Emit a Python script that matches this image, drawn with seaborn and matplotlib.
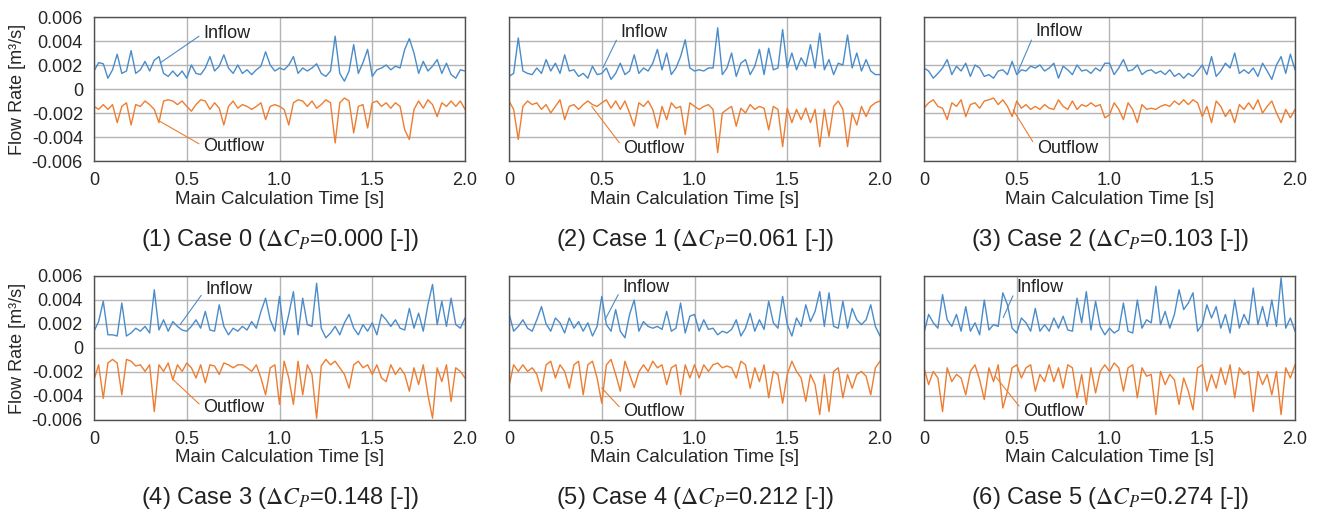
import numpy as np
import pandas as pd
import matplotlib
matplotlib.use("Agg")
import matplotlib.pyplot as plt
import seaborn as sns

# time axis of the main calculation [s]
time_s = np.linspace(0, 2.0, 81)

# flow rates, in 0.001 m3/s
case0_in = [1.5,2.2,2.1,0.9,1.6,2.9,1.3,1.5,3.2,1.3, 1.6,2.3,1.5,2.4,2.7,1.3,1.05,1.5,1.05,1.5,
            0.9,2.0,1.3,1.2,1.75,2.7,1.5,1.9,2.85,1.75, 1.3,2.0,1.3,1.6,1.2,1.6,1.9,3.1,2.0,1.5,
            1.75,1.6,2.0,2.7,1.3,1.75,1.5,1.75,2.1,1.3, 1.05,1.5,4.4,1.3,0.65,1.5,3.7,1.3,2.2,3.3,
            1.05,1.6,1.75,2.0,1.6,1.9,1.75,3.3,4.2,3.0, 1.3,2.3,1.5,1.9,2.45,1.3,2.15,1.2,0.9,1.6,1.5]
case0_out = [-1.45,-1.7,-1.3,-1.7,-1.3,-2.8,-1.45,-1.15,-3.0,-1.3, -1.45,-1.0,-1.3,-1.7,-2.8,-1.0,-0.9,-1.0,-1.3,-1.0,
             -1.45,-1.85,-1.3,-0.9,-1.0,-1.7,-1.15,-1.6,-3.0,-1.45, -1.0,-1.6,-1.3,-1.45,-1.7,-1.45,-1.15,-2.55,-1.45,-1.3,
             -1.45,-1.7,-3.0,-1.15,-0.9,-1.0,-1.45,-1.0,-1.6,-1.3, -0.9,-1.15,-4.5,-1.15,-0.75,-1.0,-3.65,-1.45,-1.3,-3.25,
             -1.15,-1.0,-1.45,-1.15,-1.6,-1.15,-1.45,-3.4,-4.2,-1.7, -1.0,-1.6,-0.9,-1.3,-2.3,-1.15,-1.45,-1.0,-1.45,-1.0,-1.7]
case1_in = [1.05,1.3,4.25,1.5,1.3,1.2,1.75,1.3,2.45,1.5, 2.15,1.3,2.85,1.5,1.6,1.05,1.3,0.9,1.9,1.2,
            1.3,1.75,0.8,1.3,2.15,1.2,1.5,2.85,1.3,1.75, 1.5,2.15,3.3,1.6,3.0,1.2,1.75,2.7,4.1,1.75,
            1.5,1.6,1.5,1.75,1.75,5.1,1.2,1.75,3.0,1.05, 2.15,2.45,1.2,1.9,3.3,1.2,3.4,1.6,1.75,4.95,
            1.75,3.0,1.6,2.6,1.9,3.7,1.75,4.65,1.6,2.45, 1.2,2.15,2.0,4.5,1.75,3.0,1.5,2.45,1.5,1.2,1.2]
case1_out = [-1.0,-1.7,-4.2,-1.45,-1.0,-1.3,-1.15,-1.7,-1.3,-2.0, -1.45,-0.9,-2.55,-1.45,-1.3,-1.7,-1.3,-1.0,-1.3,-1.45,
             -1.15,-0.9,-1.6,-1.0,-1.7,-1.0,-2.0,-3.1,-1.15,-1.45, -1.0,-1.7,-3.25,-1.45,-2.55,-1.15,-1.6,-1.45,-3.8,-1.15,
             -1.45,-1.7,-1.45,-1.3,-1.7,-5.3,-2.0,-1.7,-1.45,-3.1, -1.6,-2.0,-1.3,-1.7,-1.45,-1.6,-3.4,-1.45,-1.7,-4.8,
             -1.6,-2.8,-1.7,-2.55,-1.6,-2.8,-1.7,-4.8,-1.7,-3.95, -1.45,-1.0,-1.7,-4.8,-2.0,-3.0,-1.45,-2.3,-1.45,-1.15,-1.0]
case2_in = [1.75,1.5,0.9,1.3,1.75,2.45,1.2,1.9,1.5,2.15, 1.05,2.0,1.75,1.05,1.2,0.9,1.5,1.6,1.2,2.3,
            1.2,1.6,1.5,1.9,1.75,2.0,1.5,1.75,2.15,0.9, 1.9,1.6,1.2,2.0,1.5,1.6,1.3,1.75,1.5,2.15,
            2.15,1.2,1.75,2.45,1.5,1.6,2.0,1.2,1.5,1.6, 1.3,1.5,1.2,1.6,1.05,1.3,0.9,1.3,1.05,1.5,
            2.0,1.2,2.7,1.05,1.5,2.15,1.75,3.0,1.3,1.6, 1.3,1.75,1.05,2.15,1.5,0.8,2.0,2.7,1.3,2.9,1.6]
case2_out = [-1.6,-1.15,-0.9,-1.45,-1.6,-2.55,-1.15,-1.45,-0.9,-2.3, -1.3,-1.15,-1.6,-1.0,-0.9,-0.75,-1.3,-0.9,-1.45,-2.3,
             -1.0,-1.6,-1.3,-1.7,-1.45,-1.7,-1.3,-1.6,-1.7,-0.9, -1.45,-1.7,-1.0,-1.7,-1.3,-1.45,-1.15,-1.45,-1.3,-2.4,
             -2.15,-1.15,-1.7,-2.55,-1.15,-1.7,-2.8,-1.3,-1.7,-1.6, -1.7,-1.45,-1.3,-1.45,-1.0,-1.3,-0.9,-1.3,-0.9,-1.15,
             -2.3,-1.45,-2.8,-1.0,-1.45,-2.3,-1.7,-2.8,-1.3,-1.7, -1.15,-1.7,-0.9,-2.0,-1.45,-1.0,-2.0,-2.8,-1.7,-2.4,-1.7]
case3_in = [1.4,2.2,3.9,1.1,1.1,1.0,3.75,1.0,1.25,1.65, 1.4,1.8,1.25,4.85,1.5,2.35,1.4,2.2,1.8,1.5,
            1.4,1.8,2.35,1.65,3.05,1.5,1.4,3.6,1.8,1.1, 1.65,1.4,1.8,1.5,2.2,1.65,3.05,4.15,2.35,1.4,
            4.3,1.1,2.8,4.7,1.1,4.15,1.95,1.8,5.4,1.65, 0.85,1.25,1.8,1.1,2.1,2.8,1.65,1.1,1.95,1.4,
            2.1,1.1,2.8,2.35,1.8,2.35,1.65,1.5,3.3,1.65, 2.9,1.4,3.6,5.3,1.95,3.9,1.8,4.15,1.95,1.65,2.5]
case3_out = [-2.65,-1.4,-4.2,-1.25,-0.95,-1.25,-3.9,-0.95,-1.1,-1.5, -1.4,-1.95,-1.4,-5.3,-1.4,-1.95,-1.25,-2.65,-1.4,-1.95,
             -1.25,-1.65,-2.5,-1.4,-2.9,-1.4,-1.5,-2.2,-1.25,-1.4, -1.65,-1.4,-1.4,-1.65,-1.95,-1.4,-2.5,-3.9,-1.65,-1.4,
             -4.7,-1.1,-2.5,-4.7,-1.1,-3.9,-1.4,-2.2,-5.85,-1.5, -0.95,-1.4,-1.1,-1.65,-2.2,-3.35,-1.4,-1.1,-1.65,-1.4,
             -2.2,-1.4,-2.5,-2.8,-1.4,-2.2,-1.65,-2.2,-3.6,-1.65, -3.05,-1.4,-3.9,-5.85,-1.65,-2.8,-1.4,-4.45,-1.65,-1.95,-2.5]
case4_in = [2.9,1.4,1.8,2.35,1.65,1.4,2.35,3.45,2.0,1.4, 2.5,2.1,1.25,2.5,1.65,2.2,1.4,2.1,1.0,1.8,
            4.3,1.95,1.4,3.2,1.4,0.85,2.8,4.0,1.4,2.2, 1.8,1.65,1.8,1.55,3.05,1.4,1.65,3.75,1.25,2.65,
            2.8,1.4,2.35,1.55,1.65,1.1,1.4,1.25,1.55,2.35, 1.0,1.65,2.9,1.4,2.35,1.55,3.9,2.1,1.65,4.3,
            1.95,1.0,2.5,1.8,3.6,2.2,3.05,4.7,1.8,4.6, 1.8,1.65,3.9,1.65,3.3,2.35,1.95,2.35,3.6,1.8,1.0]
case4_out = [-3.2,-1.4,-1.95,-1.4,-1.95,-1.65,-2.2,-3.6,-1.4,-1.1, -2.5,-1.4,-1.95,-3.35,-1.4,-1.1,-3.9,-1.4,-1.1,-2.5,
             -4.6,-1.4,-0.95,-2.2,-3.6,-1.1,-2.2,-3.3,-2.0,-1.4, -1.95,-1.1,-1.65,-1.4,-3.05,-1.65,-1.4,-3.9,-1.4,-2.5,
             -1.4,-2.5,-1.4,-1.95,-1.4,-1.25,-1.65,-1.5,-1.65,-2.5, -1.1,-1.4,-3.35,-1.65,-2.8,-1.4,-4.15,-1.95,-2.2,-4.6,
             -2.2,-1.1,-1.95,-2.5,-4.45,-2.2,-3.05,-5.55,-2.2,-5.3, -1.95,-1.65,-4.15,-2.2,-3.35,-2.2,-1.95,-2.35,-3.9,-1.65,-1.1]
case5_in = [1.25,2.8,2.1,1.65,4.45,2.35,1.8,2.8,1.4,3.45, 1.4,2.1,1.1,4.0,1.5,1.95,1.8,4.6,3.6,1.65,
            1.25,2.5,2.1,1.4,3.3,1.4,1.95,1.4,2.5,1.65, 2.65,1.5,1.4,4.15,2.1,4.7,1.5,3.9,1.8,1.1,
            1.65,1.25,1.5,3.75,1.4,1.25,4.0,1.65,2.35,2.1, 5.15,1.95,3.05,1.65,2.8,4.85,3.2,3.75,4.6,1.4,
            1.95,3.6,2.5,3.45,1.65,2.8,1.25,4.0,1.65,2.8, 1.95,5.0,1.95,3.45,1.8,4.0,1.8,5.85,1.65,2.5,1.4]
case5_out = [-1.65,-3.05,-1.95,-2.5,-5.3,-1.65,-2.8,-2.2,-2.5,-3.9, -1.95,-1.4,-2.65,-4.3,-1.65,-2.8,-1.4,-5.0,-3.6,-1.65,
             -1.4,-2.5,-1.65,-1.4,-3.6,-2.2,-2.8,-1.4,-2.8,-1.65, -3.35,-1.4,-1.65,-4.15,-2.2,-4.7,-1.65,-3.75,-1.95,-1.4,
             -1.95,-1.25,-1.65,-3.6,-1.65,-1.4,-4.15,-1.65,-2.35,-2.2, -5.55,-1.95,-3.05,-2.2,-2.65,-4.7,-2.5,-3.6,-5.15,-1.65,
             -1.4,-3.6,-2.2,-3.35,-1.65,-3.05,-1.4,-4.15,-1.65,-2.2, -1.95,-5.3,-1.95,-3.05,-2.2,-3.9,-1.95,-5.55,-1.65,-2.5,-1.4]

inflows = [case0_in, case1_in, case2_in, case3_in, case4_in, case5_in]
outflows = [case0_out, case1_out, case2_out, case3_out, case4_out, case5_out]
case_names = ["Case 0", "Case 1", "Case 2", "Case 3", "Case 4", "Case 5"]
delta_cp = ["0.000", "0.061", "0.103", "0.148", "0.212", "0.274"]

y_ticks = [0.006, 0.004, 0.002, 0, -0.002, -0.004, -0.006]
y_ticklabels = ["0.006", "0.004", "0.002", "0", "-0.002", "-0.004", "-0.006"]
x_ticks = [0, 0.5, 1.0, 1.5, 2.0]
x_ticklabels = ["0", "0.5", "1.0", "1.5", "2.0"]

# label placement: (curve t, curve q, text t, text q) with q in 0.001 m3/s
inflow_lbl = [(0.356, 2.17, 0.59, 4.65), (0.507, 1.78, 0.60, 4.73), (0.507, 1.47, 0.60, 4.82),
              (0.464, 1.94, 0.60, 4.86), (0.518, 2.36, 0.61, 5.07), (0.427, 2.53, 0.50, 5.07)]
outflow_lbl = [(0.356, -2.7, 0.59, -4.78), (0.446, -1.45, 0.617, -4.93), (0.48, -1.73, 0.608, -4.93),
               (0.427, -2.64, 0.59, -5.0), (0.50, -3.33, 0.617, -5.27), (0.385, -2.37, 0.535, -5.27)]

BLUE = "#4a8cca"
ORANGE = "#ed7d31"

sns.set_style("white")
plt.rcParams["font.family"] = ["Liberation Sans", "DejaVu Sans"]
plt.rcParams["mathtext.fontset"] = "stix"

fig = plt.figure(figsize=(13.2, 5.12), dpi=100)
lefts = [94 / 1320, 509 / 1320, 924 / 1320]
bottoms = [1 - 161 / 512, 1 - 420 / 512]
w, h = 371 / 1320, 144 / 512

for i in range(6):
    row, col = divmod(i, 3)
    ax = fig.add_axes([lefts[col], bottoms[row], w, h])
    df = pd.DataFrame({"t": time_s,
                       "inflow": np.array(inflows[i]) * 1e-3,
                       "outflow": np.array(outflows[i]) * 1e-3})
    sns.lineplot(data=df, x="t", y="inflow", ax=ax, color=BLUE, lw=1.0)
    sns.lineplot(data=df, x="t", y="outflow", ax=ax, color=ORANGE, lw=1.0)

    ax.set_xlim(0, 2.0)
    ax.set_ylim(-0.006, 0.006)
    ax.set_xticks(x_ticks)
    ax.set_xticklabels(x_ticklabels, fontsize=13)
    ax.set_yticks(y_ticks)
    ax.grid(True, color="#b4b4b4", lw=1.0)
    ax.set_axisbelow(True)
    for s in ax.spines.values():
        s.set_color("#505050")
        s.set_linewidth(1.0)
    ax.tick_params(length=0, pad=8)
    if col == 0:
        ax.set_yticklabels(y_ticklabels, fontsize=13)
        ax.set_ylabel("Flow Rate [m³/s]", fontsize=13, labelpad=4)
    else:
        ax.set_yticklabels([])
        ax.set_ylabel("")
    ax.set_xlabel("Main Calculation Time [s]", fontsize=13.5, labelpad=1)

    a = inflow_lbl[i]
    ax.annotate("Inflow", xy=(a[0], a[1] * 1e-3), xytext=(a[2], a[3] * 1e-3),
                fontsize=13, ha="left", va="center", color="#222222",
                arrowprops=dict(arrowstyle="-", color=BLUE, lw=0.8, shrinkA=1, shrinkB=0, relpos=(0, 0.5)))
    b = outflow_lbl[i]
    ax.annotate("Outflow", xy=(b[0], b[1] * 1e-3), xytext=(b[2], b[3] * 1e-3),
                fontsize=13, ha="left", va="center", color="#222222",
                arrowprops=dict(arrowstyle="-", color=ORANGE, lw=0.8, shrinkA=1, shrinkB=0, relpos=(0, 0.5)))

    title = "(%d) %s ($\\Delta C_P$=%s [-])" % (i + 1, case_names[i], delta_cp[i])
    ty = 1 - 240 / 512 if row == 0 else 1 - 498 / 512
    fig.text(lefts[col] + w / 2, ty, title, ha="center", va="center", fontsize=17, color="#222222")

fig.savefig("out.png", dpi=100)
